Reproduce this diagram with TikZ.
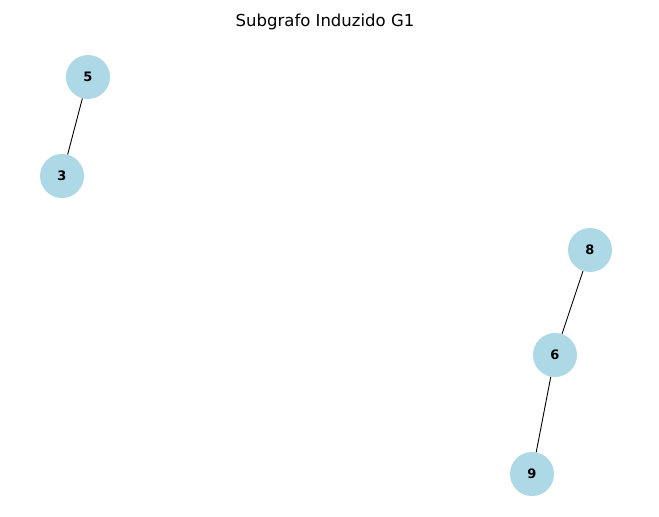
\documentclass[tikz,border=0pt]{standalone}
\usepackage{fontspec}
\setmainfont{DejaVu Sans}
\definecolor{nodeblue}{RGB}{173,216,230}
\begin{document}
\begin{tikzpicture}[x=1pt,y=-1pt,
  vtx/.style={circle,fill=nodeblue,minimum size=44pt,inner sep=0pt,font=\fontsize{13}{15}\selectfont\bfseries},
  edge/.style={draw=black,line width=0.9pt}]
\useasboundingbox (0,0) rectangle (659,517);
\node[font=\fontsize{16.5}{19}\selectfont] (title) at (325,22) {Subgrafo Induzido G1};
\node[vtx] (n5) at (88,77) {5};
\node[vtx] (n3) at (62,176) {3};
\node[vtx] (n8) at (590,250) {8};
\node[vtx] (n6) at (555,355) {6};
\node[vtx] (n9) at (532,474) {9};
\draw[edge] (n5) -- (n3);
\draw[edge] (n8) -- (n6);
\draw[edge] (n6) -- (n9);
\end{tikzpicture}
\end{document}
